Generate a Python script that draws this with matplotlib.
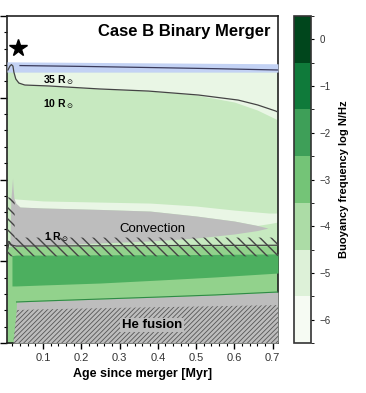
import matplotlib
matplotlib.use("Agg")
import matplotlib.pyplot as plt
import numpy as np
from matplotlib.colors import ListedColormap, BoundaryNorm
from matplotlib.cm import ScalarMappable

plt.rcParams['font.family'] = ['Liberation Sans', 'DejaVu Sans']

# ---------------- data ----------------
# colour levels (log N/Hz)
cbar_levels = [-6, -5, -4, -3, -2, -1, 0]
cbar_colors = ['#f6fbf3', '#ddf1d8', '#acdca6', '#74c477', '#3e9f58', '#0f7a3a', '#00461c']
col_pale = '#e9f6e5'      # level -5 in panel
col_light = '#c7e9c0'     # level -4 in panel
col_mid = '#92d28c'       # level -3 in panel
col_med = '#4caf5f'       # level -2 in panel
col_gray = '#bdbdbd'
col_blue = '#c3d2f4'

# stellar surface (blue band)
surf_x = [0.006, 0.714]
surf_bot = [16.57, 16.57]
surf_top = [17.2, 17.08]
surf_line_x = [0.04, 0.2, 0.38, 0.55, 0.714]
surf_line_y = [16.97, 16.92, 16.85, 16.78, 16.70]

# outer pale region (below the surface)
pale_x = [0.024, 0.03, 0.05, 0.12, 0.25, 0.38, 0.5, 0.6, 0.66, 0.714]
pale_bot = [16.57, 16.09, 15.78, 15.72, 15.54, 15.41, 15.17, 14.74, 14.25, 13.64]

# 10 R_sun contour (includes early bump)
r10_x = [0.0085, 0.0137, 0.0176, 0.0215, 0.024, 0.029, 0.037, 0.0526, 0.117, 0.247, 0.376, 0.506, 0.61, 0.661, 0.708, 0.714]
r10_y = [16.70, 16.94, 17.03, 16.94, 16.57, 16.15, 15.90, 15.78, 15.72, 15.54, 15.41, 15.17, 14.86, 14.56, 14.19, 14.12]

# pale band around the convective envelope
cpale_x = [0.02, 0.03, 0.1, 0.25, 0.38, 0.5, 0.6, 0.66, 0.69, 0.714]
cpale_top = [8.85, 8.81, 8.69, 8.62, 8.56, 8.38, 8.13, 8.01, 7.95, 7.95]
cpale_bot = [8.3, 8.32, 8.26, 8.17, 8.07, 7.77, 7.46, 7.19, 7.30, 7.40]

# convective zone
conv_x = [0.0137, 0.016, 0.0205, 0.0215, 0.024, 0.029, 0.04, 0.1, 0.25, 0.38, 0.5, 0.6, 0.66, 0.688]
conv_top = [5.87, 8.75, 10.09, 9.60, 8.87, 8.56, 8.32, 8.26, 8.17, 8.07, 7.77, 7.46, 7.19, 7.03]
conv_bot = [5.87, 5.90, 5.92, 5.93, 5.93, 5.93, 5.93, 5.99, 6.12, 6.24, 6.42, 6.67, 6.88, 7.03]

# 1 R_sun contour
r1_x = [0.008, 0.012, 0.016, 0.03, 0.714]
r1_y = [5.75, 6.2, 6.0, 5.93, 5.98]

# overshoot hatch
ov_x = [0.006, 0.026, 0.0261, 0.714]
ov_top = [8.9, 8.9, 6.45, 6.45]
ov_bot = [5.3, 5.3, 5.3, 5.3]

# lower layers
low_x = [0.006, 0.714]
low_top = [5.9, 5.95]
med_x = [0.019, 0.03, 0.1, 0.25, 0.4, 0.55, 0.714]
med_top = [5.35, 5.38, 5.38, 5.40, 5.40, 5.42, 5.45]
med_bot = [3.49, 3.49, 3.55, 3.67, 3.85, 4.04, 4.28]

# core (gray) and He fusion hatch
core_x = [0.022, 0.030, 0.031, 0.1, 0.25, 0.4, 0.55, 0.714]
core_top = [0.0, 2.02, 2.51, 2.57, 2.69, 2.81, 2.94, 3.12]
he_x = [0.022, 0.032, 0.1, 0.25, 0.4, 0.55, 0.714]
he_top = [0.0, 2.02, 2.06, 2.13, 2.19, 2.25, 2.32]

star_xy = (0.0345, 18.04)

# ---------------- figure ----------------
fig = plt.figure(figsize=(3.66, 3.93), dpi=100)
ax = fig.add_axes([0.0191, 0.1272, 0.7404, 0.832])
cax = fig.add_axes([0.803, 0.1272, 0.0464, 0.832])

xmin, xmax = 0.006, 0.714
ax.set_xlim(xmin, xmax)
ax.set_ylim(0, 20)

# base light green interior
ax.fill_between([xmin, xmax], [0, 0], [16.6, 16.6], color=col_light, lw=0, zorder=1)
# outer pale region
ax.fill_between(pale_x, pale_bot, [16.6] * len(pale_x), color=col_pale, lw=0, zorder=2)
# blue surface band
ax.fill_between(surf_x, surf_bot, surf_top, color=col_blue, lw=0, zorder=3)
# pale band around convection
ax.fill_between(cpale_x, cpale_bot, cpale_top, color=col_pale, lw=0, zorder=2)
# convection
ax.fill_between(conv_x, conv_bot, conv_top, color=col_gray, lw=0, zorder=4)
# lower green layers
ax.fill_between(low_x, [0, 0], low_top, color=col_mid, lw=0, zorder=2)
ax.fill_between(med_x, med_bot, med_top, color=col_med, lw=0, zorder=3)
# core
ax.fill_between(core_x, [0] * len(core_x), core_top, color=col_gray, lw=0, zorder=4)
ax.plot(core_x[2:], core_top[2:], color='#2e8b45', lw=0.8, zorder=5)

# hatches
plt.rcParams['hatch.linewidth'] = 1.0
ax.fill_between(ov_x, ov_bot, ov_top, facecolor='none', edgecolor='#444444',
                hatch='\\\\\\', lw=0, zorder=6)
plt.rcParams['hatch.linewidth'] = 0.6
ax.fill_between(he_x, [0] * len(he_x), he_top, facecolor='none', edgecolor='#555555',
                hatch='///////', lw=0, zorder=6)

# contour lines
ax.plot(surf_line_x, surf_line_y, color='#3a3a5a', lw=0.9, zorder=7)
ax.plot(r10_x, r10_y, color='#444444', lw=0.9, zorder=7)
ax.plot(r1_x, r1_y, color='#444444', lw=0.9, zorder=7)

# annotations
ax.plot(*star_xy, marker='*', color='black', ms=13, zorder=8, clip_on=False)
ax.text(0.695, 19.08, 'Case B Binary Merger', ha='right', va='center',
        fontsize=12, fontweight='bold', zorder=8)
ax.text(0.100, 16.1, r'35 R$_\odot$', fontsize=7.5, fontweight='bold', va='center', zorder=8)
ax.text(0.100, 14.6, r'10 R$_\odot$', fontsize=7.5, fontweight='bold', va='center', zorder=8)
ax.text(0.103, 6.5, r'1 R$_\odot$', fontsize=7.5, fontweight='bold', va='center', zorder=8)
ax.text(0.385, 7.0, 'Convection', fontsize=9.5, ha='center', va='center', zorder=8)
ax.text(0.385, 1.1, 'He fusion', fontsize=9.5, fontweight='bold', ha='center', va='center',
        zorder=8, bbox=dict(facecolor=col_gray, edgecolor='none', pad=1.0))

# axes styling
ax.set_xticks([0.1, 0.2, 0.3, 0.4, 0.5, 0.6, 0.7])
ax.set_xticks(np.arange(0.02, 0.72, 0.02), minor=True)
ax.set_yticks([0, 5, 10, 15, 20])
ax.set_yticks(np.arange(0, 21, 1), minor=True)
ax.set_yticklabels([])
ax.tick_params(axis='both', which='major', direction='out', length=4, width=1.0,
               labelsize=8, labelcolor='#333333')
ax.tick_params(axis='both', which='minor', direction='out', length=2.5, width=0.8)
ax.tick_params(axis='y', which='major', length=5)
ax.set_xlabel('Age since merger [Myr]', fontsize=9, fontweight='bold', labelpad=3)
for s in ax.spines.values():
    s.set_linewidth(1.2)
    s.set_color('#222222')

# colorbar
bounds = np.arange(-6.5, 1.0, 1.0)
cmap = ListedColormap(cbar_colors)
norm = BoundaryNorm(bounds, cmap.N)
sm = ScalarMappable(norm=norm, cmap=cmap)
cb = fig.colorbar(sm, cax=cax, ticks=cbar_levels)
cb.outline.set_linewidth(1.2)
cb.outline.set_edgecolor('#333333')
cax.tick_params(labelsize=7, length=2.5, width=0.8, labelcolor='#333333')
cb.set_label('Buoyancy frequency log N/Hz', fontsize=8, fontweight='bold', labelpad=6)

fig.savefig('out.png', dpi=100)
